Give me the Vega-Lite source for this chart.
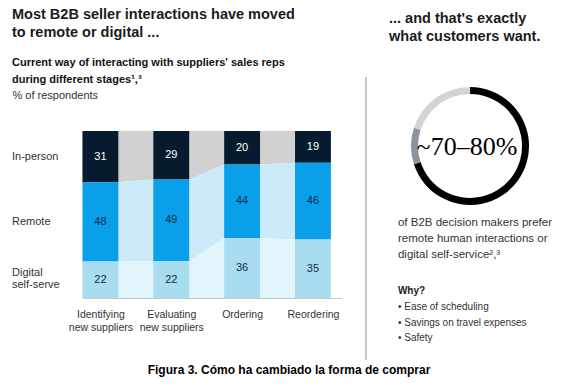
{
  "$schema": "https://vega.github.io/schema/vega-lite/v6.json",
  "background": "white",
  "padding": {"left": 12, "top": 6, "right": 4, "bottom": 8},
  "config": {
    "view": {"stroke": null},
    "font": "Liberation Sans",
    "text": {"font": "Liberation Sans"},
    "axis": {"labels": false, "ticks": false, "grid": false, "domain": false}
  },
  "title": {
    "text": "Figura 3. Cómo ha cambiado la forma de comprar",
    "orient": "bottom",
    "anchor": "middle",
    "dx": -3,
    "font": "Liberation Sans",
    "fontSize": 12,
    "fontWeight": "bold",
    "color": "#000000",
    "offset": 4
  },
  "columns": 2,
  "align": "none",
  "spacing": 23,
  "resolve": {"scale": {"color": "independent", "x": "independent", "y": "independent"}},
  "concat": [
    {
      "width": 260,
      "height": 167,
      "title": {
        "text": ["Most B2B seller interactions have moved", "to remote or digital ..."],
        "subtitle": ["Current way of interacting with suppliers' sales reps", "during different stages¹,³"],
        "anchor": "start",
        "frame": "bounds",
        "font": "Liberation Sans",
        "fontSize": 14.5,
        "fontWeight": "bold",
        "lineHeight": 18,
        "color": "#1b1b1b",
        "subtitleFont": "Liberation Sans",
        "subtitleFontSize": 11,
        "subtitleFontWeight": "bold",
        "subtitleColor": "#111111",
        "subtitleLineHeight": 17,
        "subtitlePadding": 17,
        "offset": 3
      },
      "data": {
        "values": [
          {"stage": "Identifying new suppliers", "channel": "In-person", "value": 31},
          {"stage": "Identifying new suppliers", "channel": "Remote", "value": 48},
          {"stage": "Identifying new suppliers", "channel": "Digital self-serve", "value": 22},
          {"stage": "Evaluating new suppliers", "channel": "In-person", "value": 29},
          {"stage": "Evaluating new suppliers", "channel": "Remote", "value": 49},
          {"stage": "Evaluating new suppliers", "channel": "Digital self-serve", "value": 22},
          {"stage": "Ordering", "channel": "In-person", "value": 20},
          {"stage": "Ordering", "channel": "Remote", "value": 44},
          {"stage": "Ordering", "channel": "Digital self-serve", "value": 36},
          {"stage": "Reordering", "channel": "In-person", "value": 19},
          {"stage": "Reordering", "channel": "Remote", "value": 46},
          {"stage": "Reordering", "channel": "Digital self-serve", "value": 35}
        ]
      },
      "transform": [
        {"calculate": "indexof(['Identifying new suppliers','Evaluating new suppliers','Ordering','Reordering'], datum.stage) + 1", "as": "pos"},
        {"calculate": "indexof(['Digital self-serve','Remote','In-person'], datum.channel)", "as": "rank"},
        {"stack": "value", "groupby": ["stage"], "sort": [{"field": "rank", "order": "ascending"}], "offset": "normalize", "as": ["lo", "hi"]},
        {"calculate": "(datum.lo + datum.hi) / 2", "as": "mid"},
        {"calculate": "datum.pos - 0.253", "as": "xl"},
        {"calculate": "datum.pos + 0.253", "as": "xr"}
      ],
      "resolve": {"scale": {"color": "independent"}},
      "layer": [
        {
          "transform": [{"fold": ["xl", "xr"], "as": ["side", "xe"]}],
          "mark": {"type": "area", "orient": "vertical", "interpolate": "linear"},
          "encoding": {
            "x": {
              "field": "xe", "type": "quantitative",
              "scale": {"domain": [0.74, 4.41], "nice": false, "zero": false},
              "axis": {
                "values": [1, 2, 3, 4],
                "labelExpr": "[['Identifying','new suppliers'],['Evaluating','new suppliers'],'Ordering','Reordering'][datum.value - 1]",
                "domain": true, "domainColor": "#c9c9c9", "domainWidth": 1,
                "ticks": false, "grid": false, "labels": true,
                "labelFont": "Liberation Sans", "labelFontSize": 10.5, "labelColor": "#333333",
                "labelPadding": 11, "labelLineHeight": 13, "labelAngle": 0,
                "labelAlign": "center", "labelBaseline": "top",
                "labelOverlap": false, "labelFlush": false, "title": null
              }
            },
            "y": {
              "field": "lo", "type": "quantitative", "stack": null,
              "scale": {"domain": [0, 1], "nice": false, "zero": false},
              "axis": {
                "title": "% of respondents", "titleAngle": 0, "titleAlign": "left",
                "titleBaseline": "middle", "titleX": -70, "titleY": -36,
                "titleFont": "Liberation Sans", "titleFontSize": 11, "titleFontWeight": "normal",
                "titleColor": "#333333",
                "domain": false, "ticks": false, "labels": false, "grid": false
              }
            },
            "y2": {"field": "hi"},
            "color": {
              "field": "channel", "type": "nominal",
              "scale": {"domain": ["In-person", "Remote", "Digital self-serve"], "range": ["#d1d1d1", "#cdeafa", "#e2f5fb"]},
              "legend": null
            }
          }
        },
        {
          "mark": {"type": "rect"},
          "encoding": {
            "x": {"field": "xl", "type": "quantitative", "scale": {"domain": [0.74, 4.41], "nice": false, "zero": false}},
            "x2": {"field": "xr"},
            "y": {"field": "lo", "type": "quantitative", "scale": {"domain": [0, 1], "nice": false, "zero": false}},
            "y2": {"field": "hi"},
            "color": {
              "field": "channel", "type": "nominal",
              "scale": {"domain": ["In-person", "Remote", "Digital self-serve"], "range": ["#061c2e", "#0a9fe9", "#a7ddef"]},
              "legend": null
            }
          }
        },
        {
          "mark": {"type": "text", "font": "Liberation Sans", "fontSize": 11, "align": "center", "baseline": "middle"},
          "encoding": {
            "x": {"field": "pos", "type": "quantitative", "scale": {"domain": [0.74, 4.41], "nice": false, "zero": false}},
            "y": {"field": "mid", "type": "quantitative", "scale": {"domain": [0, 1], "nice": false, "zero": false}},
            "text": {"field": "value", "type": "quantitative"},
            "color": {"condition": {"test": "datum.channel === 'In-person'", "value": "#ffffff"}, "value": "#0d2b45"}
          }
        },
        {
          "transform": [{"filter": "datum.pos === 1 && indexof(datum.channel, ' ') < 0"}],
          "mark": {"type": "text", "font": "Liberation Sans", "fontSize": 11, "align": "left", "baseline": "middle", "color": "#333333"},
          "encoding": {
            "x": {"datum": -0.248, "type": "quantitative", "scale": {"domain": [0.74, 4.41], "nice": false, "zero": false}},
            "y": {"field": "mid", "type": "quantitative", "scale": {"domain": [0, 1], "nice": false, "zero": false}},
            "text": {"field": "channel", "type": "nominal"}
          }
        },
        {
          "transform": [{"filter": "datum.pos === 1 && indexof(datum.channel, ' ') >= 0"}],
          "mark": {"type": "text", "font": "Liberation Sans", "fontSize": 11, "align": "left", "baseline": "middle", "lineBreak": " ", "lineHeight": 12, "dy": -7, "color": "#333333"},
          "encoding": {
            "x": {"datum": -0.248, "type": "quantitative", "scale": {"domain": [0.74, 4.41], "nice": false, "zero": false}},
            "y": {"field": "mid", "type": "quantitative", "scale": {"domain": [0, 1], "nice": false, "zero": false}},
            "text": {"field": "channel", "type": "nominal"}
          }
        }
      ]
    },
    {
      "width": 206,
      "height": 229,
      "title": {
        "text": ["... and that's exactly", "what customers want."],
        "anchor": "start",
        "frame": "group",
        "dx": 23,
        "font": "Liberation Sans",
        "fontSize": 14.5,
        "fontWeight": "bold",
        "lineHeight": 18,
        "color": "#1b1b1b",
        "offset": 32
      },
      "layer": [
        {
          "data": {"values": [{"divider": "column rule"}]},
          "mark": {"type": "rule", "color": "#8f8f8f", "strokeWidth": 1},
          "encoding": {
            "x": {"datum": 0, "type": "quantitative", "scale": {"domain": [0, 1], "nice": false, "zero": false}, "axis": {"title": null}},
            "y": {"datum": -0.236, "type": "quantitative", "scale": {"domain": [0, 1], "reverse": true, "nice": false, "zero": false}, "axis": {"title": null}},
            "y2": {"datum": 1}
          }
        },
        {
          "data": {"values": [
            {"segment": "Prefer", "share": 70},
            {"segment": "Range", "share": 10},
            {"segment": "Rest", "share": 20}
          ]},
          "mark": {"type": "arc", "radius": 59, "radius2": 52},
          "encoding": {
            "theta": {"field": "share", "type": "quantitative"},
            "order": {"field": "segment", "type": "ordinal", "sort": "ascending"},
            "color": {
              "field": "segment", "type": "nominal",
              "scale": {"domain": ["Prefer", "Range", "Rest"], "range": ["#000000", "#8c959c", "#d4d4d4"]},
              "legend": null
            },
            "x": {"datum": 0.505, "type": "quantitative", "scale": {"domain": [0, 1], "nice": false, "zero": false}},
            "y": {"datum": 0.0655, "type": "quantitative", "scale": {"domain": [0, 1], "reverse": true, "nice": false, "zero": false}}
          }
        },
        {
          "data": {"values": [{"label": "~70–80%"}]},
          "mark": {"type": "text", "font": "Liberation Serif", "fontSize": 26, "align": "center", "baseline": "middle", "color": "#000000"},
          "encoding": {
            "x": {"datum": 0.49, "type": "quantitative", "scale": {"domain": [0, 1], "nice": false, "zero": false}},
            "y": {"datum": 0.07, "type": "quantitative", "scale": {"domain": [0, 1], "reverse": true, "nice": false, "zero": false}},
            "text": {"field": "label", "type": "nominal"}
          }
        },
        {
          "data": {"values": [{"label": "of B2B decision makers prefer\nremote human interactions or\ndigital self-service²,³"}]},
          "mark": {"type": "text", "font": "Liberation Sans", "fontSize": 11.5, "align": "left", "baseline": "top", "lineBreak": "\n", "lineHeight": 16, "color": "#333333"},
          "encoding": {
            "x": {"datum": 0.155, "type": "quantitative", "scale": {"domain": [0, 1], "nice": false, "zero": false}},
            "y": {"datum": 0.3755, "type": "quantitative", "scale": {"domain": [0, 1], "reverse": true, "nice": false, "zero": false}},
            "text": {"field": "label", "type": "nominal"}
          }
        },
        {
          "data": {"values": [{"label": "Why?"}]},
          "mark": {"type": "text", "font": "Liberation Sans", "fontSize": 10, "fontWeight": "bold", "align": "left", "baseline": "top", "color": "#1b1b1b"},
          "encoding": {
            "x": {"datum": 0.155, "type": "quantitative", "scale": {"domain": [0, 1], "nice": false, "zero": false}},
            "y": {"datum": 0.677, "type": "quantitative", "scale": {"domain": [0, 1], "reverse": true, "nice": false, "zero": false}},
            "text": {"field": "label", "type": "nominal"}
          }
        },
        {
          "data": {"values": [{"label": "• Ease of scheduling\n• Savings on travel expenses\n• Safety"}]},
          "mark": {"type": "text", "font": "Liberation Sans", "fontSize": 10, "align": "left", "baseline": "top", "lineBreak": "\n", "lineHeight": 15.5, "color": "#333333"},
          "encoding": {
            "x": {"datum": 0.155, "type": "quantitative", "scale": {"domain": [0, 1], "nice": false, "zero": false}},
            "y": {"datum": 0.747, "type": "quantitative", "scale": {"domain": [0, 1], "reverse": true, "nice": false, "zero": false}},
            "text": {"field": "label", "type": "nominal"}
          }
        }
      ]
    }
  ]
}
